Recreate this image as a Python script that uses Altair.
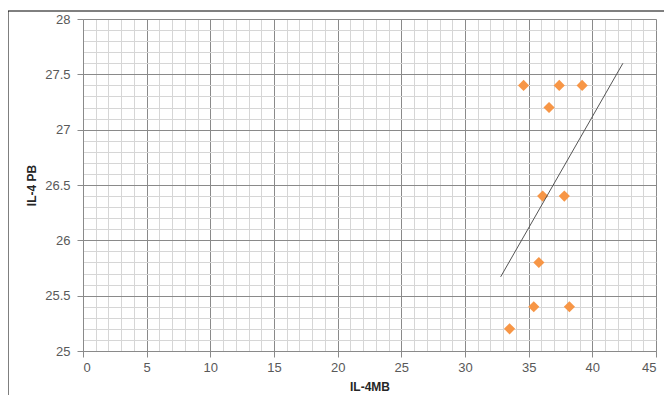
import altair as alt
import pandas as pd

# Data
il4_mb = [34.6, 37.4, 39.2, 36.6, 36.1, 37.8, 35.8, 35.4, 38.2, 33.5]
il4_pb = [27.4, 27.4, 27.4, 27.2, 26.4, 26.4, 25.8, 25.4, 25.4, 25.2]
trend_x = [32.8, 42.4]
trend_y = [25.67, 27.6]

# Axis tick positions (major every 5 / 0.5, minor every 1 / 0.1)
x_ticks = list(range(0, 46))
y_ticks = [round(25 + i * 0.1, 1) for i in range(31)]

pts = pd.DataFrame({"IL-4MB": il4_mb, "IL-4 PB": il4_pb})
trend = pd.DataFrame({"IL-4MB": trend_x, "IL-4 PB": trend_y})

FONT = "Liberation Sans"
MAJOR = "#8a8a8a"
MINOR = "#d6d6d6"

xs = alt.Scale(domain=[0, 45], nice=False, zero=False)
ys = alt.Scale(domain=[25, 28], nice=False, zero=False)

x_axis = alt.Axis(
    values=x_ticks, tickCount=200, labelOverlap=False,
    title="IL-4MB",
    labelExpr="datum.value % 5 === 0 ? toString(datum.value) : ''",
    gridColor={"condition": {"test": "datum.value % 5 === 0", "value": MAJOR}, "value": MINOR},
    tickOpacity={"condition": {"test": "datum.value % 5 === 0", "value": 1}, "value": 0},
    tickColor=MAJOR, tickSize=6, domainColor=MAJOR,
    labelFont=FONT, labelFontSize=13, labelColor="#595959", labelPadding=4,
    titleFont=FONT, titleFontSize=12, titleFontWeight="bold", titleColor="#262626", titlePadding=7,
)
y_axis = alt.Axis(
    values=y_ticks, tickCount=200, labelOverlap=False,
    title="IL-4 PB",
    labelExpr="round(datum.value * 10) % 5 === 0 ? toString(datum.value) : ''",
    gridColor={"condition": {"test": "round(datum.value * 10) % 5 === 0", "value": MAJOR}, "value": MINOR},
    tickOpacity={"condition": {"test": "round(datum.value * 10) % 5 === 0", "value": 1}, "value": 0},
    tickColor=MAJOR, tickSize=6, domainColor=MAJOR,
    labelFont=FONT, labelFontSize=13, labelColor="#595959", labelPadding=7,
    titleFont=FONT, titleFontSize=12, titleFontWeight="bold", titleColor="#262626", titlePadding=6,
)

points = alt.Chart(pts).mark_point(
    shape="diamond", filled=True, size=125, color="#F79646", opacity=1
).encode(
    x=alt.X("IL-4MB:Q", scale=xs, axis=x_axis),
    y=alt.Y("IL-4 PB:Q", scale=ys, axis=y_axis),
)

line = alt.Chart(trend).mark_line(color="#555555", strokeWidth=1).encode(
    x=alt.X("IL-4MB:Q", scale=xs),
    y=alt.Y("IL-4 PB:Q", scale=ys),
)

frame = alt.Chart(pd.DataFrame({"a": [0]})).mark_rect(
    fill=None, stroke="#000000", strokeWidth=1
).encode(
    x=alt.value(-75), x2=alt.value(640), y=alt.value(-8), y2=alt.value(420)
)

chart = alt.layer(points, line, frame).properties(
    width=573, height=332,
    autosize=alt.AutoSizeParams(type="none"),
    padding={"left": 75, "top": 11, "right": 8, "bottom": 44},
).configure_view(stroke=None).configure(background="white")

chart.save("out.html", embed_options={"renderer": "svg", "actions": False})
